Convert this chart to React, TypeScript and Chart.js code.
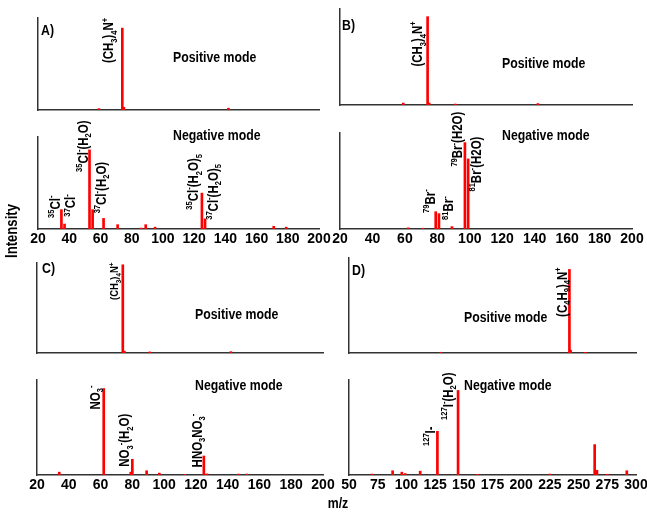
import React, { useEffect, useRef } from 'react';
import { Chart, registerables } from 'chart.js';
Chart.register(...registerables);

const W = 647;
const H = 512;

// ---------- data (m/z positions and relative intensities) ----------
// Panel A
const aPosMz = [59, 74, 75, 142];
const aPosInt = [0.015, 0.89, 0.03, 0.02];
const aNegMz = [35, 37, 53, 55, 62, 71, 86, 89, 95, 125, 127, 171, 179];
const aNegInt = [0.21, 0.054, 0.86, 0.21, 0.115, 0.047, 0.01, 0.047, 0.02, 0.39, 0.11, 0.03, 0.02];
// Panel B
const bPosMz = [59, 74, 75, 91, 142];
const bPosInt = [0.02, 0.92, 0.02, 0.01, 0.015];
const bNegMz = [62, 71, 79, 81, 89, 97, 99];
const bNegInt = [0.012, 0.008, 0.18, 0.16, 0.025, 0.9, 0.73];
// Panel C
const cPosMz = [74, 75, 91, 142];
const cPosInt = [0.98, 0.02, 0.012, 0.015];
const cNegMz = [34, 62, 79, 80, 89, 97, 113, 125, 127, 147, 152];
const cNegInt = [0.03, 0.91, 0.03, 0.165, 0.045, 0.02, 0.006, 0.2, 0.012, 0.01, 0.01];
// Panel D
const dPosMz = [130, 242, 243, 256];
const dPosInt = [0.008, 0.88, 0.03, 0.006];
const dNegMz = [70, 88, 96, 99, 112, 127, 145, 162, 225, 264, 266, 275, 292];
const dNegInt = [0.01, 0.045, 0.03, 0.015, 0.04, 0.46, 0.89, 0.006, 0.01, 0.32, 0.05, 0.008, 0.045];

// tick labels
const ticks20to200 = [20, 40, 60, 80, 100, 120, 140, 160, 180, 200];
const ticks50to300 = [50, 75, 100, 125, 150, 175, 200, 225, 250, 275, 300];

// ---------- peak annotations (rich text: n = normal, sup, sub) ----------
type Seg = [string, 'n' | 'sup' | 'sub'];
interface PeakLabel { x: number; y: number; segs: Seg[] }

const CH3_4N: Seg[] = [['(CH', 'n'], ['3', 'sub'], [')', 'n'], ['4', 'sub'], ['N', 'n'], ['+', 'sup']];
const H2O: Seg[] = [['(H', 'n'], ['2', 'sub'], ['O)', 'n']];

const aPosLabels: PeakLabel[] = [{ x: 68.2, y: 0.51, segs: CH3_4N }];
const aNegLabels: PeakLabel[] = [
  { x: 34, y: 0.12, segs: [['35', 'sup'], ['Cl', 'n'], ['-', 'sup']] },
  { x: 43.8, y: 0.134, segs: [['37', 'sup'], ['Cl', 'n'], ['-', 'sup']] },
  { x: 51.8, y: 0.62, segs: [['35', 'sup'], ['Cl', 'n'], ['-', 'sup'], ...H2O] },
  { x: 63.4, y: 0.17, segs: [['37', 'sup'], ['Cl', 'n'], ['-', 'sup'], ...H2O] },
  { x: 122.5, y: 0.21, segs: [['35', 'sup'], ['Cl', 'n'], ['-', 'sup'], ...H2O, ['5', 'sub']] },
  { x: 135, y: 0.1, segs: [['37', 'sup'], ['Cl', 'n'], ['-', 'sup'], ...H2O, ['5', 'sub']] },
];
const bPosLabels: PeakLabel[] = [{ x: 70.6, y: 0.4, segs: CH3_4N }];
const bNegLabels: PeakLabel[] = [
  { x: 78.3, y: 0.167, segs: [['79', 'sup'], ['Br', 'n'], ['-', 'sup']] },
  { x: 89.9, y: 0.094, segs: [['81', 'sup'], ['Br', 'n'], ['-', 'sup']] },
  { x: 95.4, y: 0.65, segs: [['79', 'sup'], ['Br', 'n'], ['-', 'sup'], ['(H2O)', 'n']] },
  { x: 106.9, y: 0.39, segs: [['81', 'sup'], ['Br', 'n'], ['-', 'sup'], ['(H2O)', 'n']] },
];
const cPosLabels: PeakLabel[] = [{ x: 71.2, y: 0.59, segs: CH3_4N }];
const cNegLabels: PeakLabel[] = [
  { x: 59.6, y: 0.69, segs: [['NO', 'n'], ['3', 'sub'], ['-', 'sup']] },
  { x: 78, y: 0.087, segs: [['NO', 'n'], ['3', 'sub'], ['-', 'sup'], ...H2O] },
  { x: 123.6, y: 0.08, segs: [['HNO', 'n'], ['3', 'sub'], ['NO', 'n'], ['3', 'sub'], ['-', 'sup']] },
];
const dPosLabels: PeakLabel[] = [
  { x: 239.6, y: 0.38, segs: [['(C', 'n'], ['4', 'sub'], ['H', 'n'], ['9', 'sub'], [')', 'n'], ['4', 'sub'], ['N', 'n'], ['+', 'sup']] },
];
const dNegLabels: PeakLabel[] = [
  { x: 124.9, y: 0.305, segs: [['127', 'sup'], ['I', 'n'], ['-', 'n']] },
  { x: 140.3, y: 0.58, segs: [['127', 'sup'], ['I', 'n'], ['-', 'sup'], ...H2O] },
];

// ---------- layout ----------
interface Panel {
  mz: number[]; int: number[]; labels: PeakLabel[]; labelSize: number;
  box: [number, number, number, number]; // left, top, right, bottom of plot area
  min: number; max: number; tickVals: number[] | null;
  mode: string; modeAt: [number, number];
  letter?: string; letterAt?: [number, number];
}

const panels: Panel[] = [
  { mz: aPosMz, int: aPosInt, labels: aPosLabels, labelSize: 14, box: [38, 18, 319, 110], min: 20, max: 200, tickVals: null, mode: 'Positive mode', modeAt: [173, 62], letter: 'A)', letterAt: [41, 35] },
  { mz: aNegMz, int: aNegInt, labels: aNegLabels, labelSize: 14, box: [38, 137, 319, 229], min: 20, max: 200, tickVals: ticks20to200, mode: 'Negative mode', modeAt: [173, 140] },
  { mz: bPosMz, int: bPosInt, labels: bPosLabels, labelSize: 14, box: [340, 9, 632, 105], min: 20, max: 200, tickVals: null, mode: 'Positive mode', modeAt: [502, 68], letter: 'B)', letterAt: [342, 30] },
  { mz: bNegMz, int: bNegInt, labels: bNegLabels, labelSize: 14, box: [340, 133, 632, 229], min: 20, max: 200, tickVals: ticks20to200, mode: 'Negative mode', modeAt: [502, 140] },
  { mz: cPosMz, int: cPosInt, labels: cPosLabels, labelSize: 11.5, box: [37, 263, 323, 353], min: 20, max: 200, tickVals: null, mode: 'Positive mode', modeAt: [195, 319], letter: 'C)', letterAt: [42, 273] },
  { mz: cNegMz, int: cNegInt, labels: cNegLabels, labelSize: 14, box: [37, 380, 323, 475], min: 20, max: 200, tickVals: ticks20to200, mode: 'Negative mode', modeAt: [195, 390] },
  { mz: dPosMz, int: dPosInt, labels: dPosLabels, labelSize: 14, box: [349, 258, 636, 353], min: 50, max: 300, tickVals: null, mode: 'Positive mode', modeAt: [464, 322], letter: 'D)', letterAt: [352, 275] },
  { mz: dNegMz, int: dNegInt, labels: dNegLabels, labelSize: 14, box: [349, 380, 636, 475], min: 50, max: 300, tickVals: ticks50to300, mode: 'Negative mode', modeAt: [464, 390] },
];

function hasFont(name: string): boolean {
  const c = document.createElement('canvas').getContext('2d');
  if (!c) return false;
  const s = 'Positive mode 0123456789';
  c.font = 'bold 40px monospace';
  const a = c.measureText(s).width;
  c.font = `bold 40px '${name}', monospace`;
  const b = c.measureText(s).width;
  return Math.abs(a - b) > 0.5;
}

function drawRich(
  ctx: CanvasRenderingContext2D, x: number, y: number, segs: Seg[],
  size: number, fam: string, squeeze: number, rotate: boolean,
) {
  ctx.save();
  ctx.translate(x, y);
  if (rotate) ctx.rotate(-Math.PI / 2);
  ctx.scale(squeeze, 1);
  ctx.fillStyle = '#000';
  ctx.textAlign = 'left';
  ctx.textBaseline = 'alphabetic';
  let cx = 0;
  for (const [t, k] of segs) {
    const fs = k === 'n' ? size : size * 0.66;
    ctx.font = `bold ${fs}px ${fam}`;
    const dy = k === 'sup' ? -size * 0.4 : k === 'sub' ? size * 0.25 : 0;
    ctx.fillText(t, cx, dy);
    cx += ctx.measureText(t).width;
  }
  ctx.restore();
}

function measureRich(ctx: CanvasRenderingContext2D, segs: Seg[], size: number, fam: string, squeeze: number) {
  ctx.save();
  let w = 0;
  for (const [t, k] of segs) {
    const fs = k === 'n' ? size : size * 0.66;
    ctx.font = `bold ${fs}px ${fam}`;
    w += ctx.measureText(t).width;
  }
  ctx.restore();
  return w * squeeze;
}

export default function App() {
  const refs = useRef<(HTMLCanvasElement | null)[]>([]);

  useEffect(() => {
    const narrow = hasFont('Liberation Sans Narrow');
    const fam = narrow ? "'Liberation Sans Narrow', 'Liberation Sans', Arial, sans-serif" : "'Liberation Sans', Arial, sans-serif";
    const squeeze = narrow ? 1 : 0.82;
    const tickSize = narrow ? 15 : 14;

    const charts: Chart[] = [];
    panels.forEach((p, idx) => {
      const canvas = refs.current[idx];
      if (!canvas) return;
      const [l, t, r, b] = p.box;
      const xh = p.tickVals ? 20 : 0;
      const tickVals = p.tickVals;
      const chart = new Chart(canvas, {
        type: 'bar',
        data: {
          datasets: [{
            data: p.mz.map((x, i) => ({ x, y: p.int[i] })),
            backgroundColor: '#ff0000',
            borderWidth: 0,
            barThickness: 2,
          }],
        },
        options: {
          responsive: false,
          animation: false,
          devicePixelRatio: 1,
          events: [],
          layout: { padding: { left: l, top: t, right: W - r, bottom: H - b - xh } },
          plugins: { legend: { display: false }, tooltip: { enabled: false }, title: { display: false } },
          scales: {
            x: {
              type: 'linear',
              min: p.min,
              max: p.max,
              offset: false,
              grid: { display: false, drawTicks: false },
              border: { display: true, color: '#333', width: 1.5 },
              ticks: {
                display: !!tickVals,
                autoSkip: false,
                maxRotation: 0,
                minRotation: 0,
                padding: 2,
                color: '#000',
                font: { family: fam, size: tickSize, weight: 'bold' },
              },
              afterBuildTicks: (s: any) => {
                if (tickVals) s.ticks = tickVals.map((v) => ({ value: v }));
              },
              afterFit: (s: any) => {
                s.height = xh;
                s.paddingLeft = 0;
                s.paddingRight = 0;
              },
            },
            y: {
              min: 0,
              max: 1,
              grid: { display: false, drawTicks: false },
              border: { display: true, color: '#333', width: 1.5 },
              ticks: { display: false },
              afterFit: (s: any) => {
                s.width = 0;
                s.paddingTop = 0;
                s.paddingBottom = 0;
              },
            },
          },
        } as any,
        plugins: [{
          id: 'panelText' + idx,
          afterDatasetsDraw(ch: any) {
            const ctx: CanvasRenderingContext2D = ch.ctx;
            const xs = ch.scales.x;
            const ys = ch.scales.y;
            for (const lab of p.labels) {
              drawRich(ctx, xs.getPixelForValue(lab.x), ys.getPixelForValue(lab.y), lab.segs, p.labelSize, fam, squeeze, true);
            }
            drawRich(ctx, p.modeAt[0], p.modeAt[1], [[p.mode, 'n']], 15, fam, squeeze, false);
            if (p.letter && p.letterAt) {
              drawRich(ctx, p.letterAt[0], p.letterAt[1], [[p.letter, 'n']], 15, fam, squeeze, false);
            }
            if (idx === 0) {
              const segI: Seg[] = [['Intensity', 'n']];
              const wI = measureRich(ctx, segI, 16, fam, squeeze);
              drawRich(ctx, 16.5, 231 + wI / 2, segI, 16, fam, squeeze, true);
              const segM: Seg[] = [['m/z', 'n']];
              const wM = measureRich(ctx, segM, 15, fam, squeeze);
              drawRich(ctx, 338 - wM / 2, 508, segM, 15, fam, squeeze, false);
            }
          },
        }],
      });
      charts.push(chart);
    });
    return () => charts.forEach((c) => c.destroy());
  }, []);

  return (
    <div style={{ position: 'fixed', left: 0, top: 0, width: W, height: H, background: '#fff', overflow: 'hidden' }}>
      {panels.map((_, i) => (
        <canvas
          key={i}
          ref={(el) => { refs.current[i] = el; }}
          width={W}
          height={H}
          style={{ position: 'absolute', left: 0, top: 0, width: W, height: H }}
        />
      ))}
    </div>
  );
}
